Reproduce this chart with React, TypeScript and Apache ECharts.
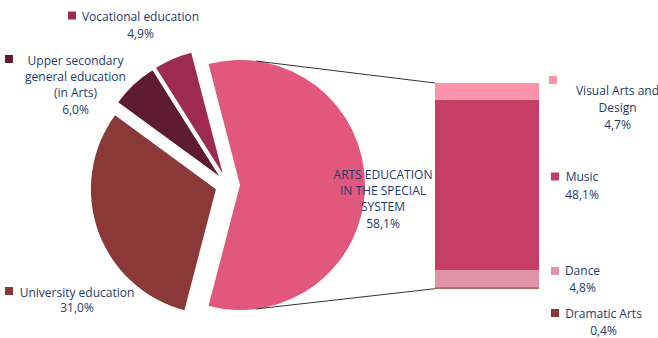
import React, { useEffect, useRef } from "react";
import * as echarts from "echarts";

// Main pie data (share of total, %)
const pieNames = [
  "ARTS EDUCATION IN THE SPECIAL SYSTEM",
  "University education",
  "Upper secondary general education (in Arts)",
  "Vocational education",
];
const pieValues = [58.1, 31.0, 6.0, 4.9];
const pieColors = ["#E2587C", "#8A3838", "#5E1B31", "#9D2B51"];

// Breakdown of the special system (stacked bar, bottom to top)
const barNames = ["Dramatic Arts", "Dance", "Music", "Visual Arts and Design"];
const barValues = [0.4, 4.8, 48.1, 4.7];
const barColors = ["#8A3838", "#E094AA", "#C73F68", "#FC93A9"];

const fmt = (v: number) => v.toFixed(1).replace(".", ",") + "%";

const TEXT = "#233A6E";
const FONT = "'Open Sans', sans-serif";
const FS = 12;

type LabelSpec = {
  lines: string[];
  cx: number;
  y: number;
  lh: number;
  sq?: [number, number];
  color?: string;
};

export default function App() {
  const ref = useRef<HTMLDivElement>(null);
  useEffect(() => {
    document.body.style.margin = "0";
    if (!ref.current) return;
    const chart = echarts.init(ref.current, undefined, { renderer: "svg" });

    const C: [number, number] = [227.6, 185];
    const R = 125;
    const OFF = 12.4;
    const startAngle = (pieValues[0] / 100) * 360 / 2;

    const gridLeft = 435;
    const gridTop = 83;
    const gridW = 104;
    const gridH = 205.7;
    const barTotal = barValues.reduce((a, b) => a + b, 0);

    chart.setOption({
      animation: false,
      grid: { left: gridLeft, top: gridTop, width: gridW, height: gridH },
      xAxis: { type: "category", data: ["bar"], show: false },
      yAxis: { type: "value", min: 0, max: barTotal, show: false },
      series: [
        {
          type: "pie",
          center: C,
          radius: R,
          startAngle,
          clockwise: true,
          selectedMode: "multiple",
          selectedOffset: OFF,
          label: { show: false },
          labelLine: { show: false },
          emphasis: { disabled: true },
          itemStyle: { borderWidth: 0 },
          data: pieNames.map((n, i) => ({
            name: n,
            value: pieValues[i],
            selected: true,
            itemStyle: { color: pieColors[i] },
          })),
        },
        ...barNames.map((n, i) => ({
          type: "bar",
          name: n,
          stack: "s",
          barWidth: "100%",
          data: [barValues[i]],
          itemStyle: { color: barColors[i] },
          emphasis: { disabled: true },
        })),
      ],
    });

    const labels: LabelSpec[] = [
      { lines: ["Vocational education", fmt(pieValues[3])], cx: 140.5, y: 16, lh: 17, sq: [68, 11.5], color: pieColors[3] },
      { lines: ["Upper secondary", "general education", "(in Arts)", fmt(pieValues[2])], cx: 75.5, y: 60, lh: 16.4, sq: [5, 55], color: pieColors[2] },
      { lines: ["University education", fmt(pieValues[1])], cx: 77, y: 292, lh: 15.5, sq: [5, 287], color: pieColors[1] },
      { lines: ["ARTS EDUCATION", "IN THE SPECIAL", "SYSTEM", fmt(pieValues[0])], cx: 383, y: 174, lh: 16.4 },
      { lines: ["Visual Arts and", "Design", fmt(barValues[3])], cx: 617.5, y: 90.7, lh: 17, sq: [549, 76], color: barColors[3] },
      { lines: ["Music", fmt(barValues[2])], cx: 582, y: 176.7, lh: 17.3, sq: [551, 172.5], color: barColors[2] },
      { lines: ["Dance", fmt(barValues[1])], cx: 582.5, y: 270.7, lh: 16.6, sq: [551, 267], color: barColors[1] },
      { lines: ["Dramatic Arts", fmt(barValues[0])], cx: 603.5, y: 313.3, lh: 16.7, sq: [551, 309], color: barColors[0] },
    ];

    const graphics: any[] = [];
    labels.forEach((l) => {
      if (l.sq) {
        graphics.push({
          type: "rect",
          z: 100,
          shape: { x: l.sq[0], y: l.sq[1], width: 8, height: 8 },
          style: { fill: l.color },
          silent: true,
        });
      }
      l.lines.forEach((t, k) => {
        graphics.push({
          type: "text",
          z: 100,
          x: l.cx,
          y: l.y + k * l.lh,
          style: {
            text: t,
            fill: TEXT,
            font: `${FS}px ${FONT}`,
            align: "center",
            verticalAlign: "middle",
          },
          silent: true,
        });
      });
    });

    // connector lines from the exploded slice to the bar's top and bottom
    const pc = [C[0] + OFF, C[1]];
    const a = (82.5 * Math.PI) / 180;
    const yTop = chart.convertToPixel({ yAxisIndex: 0 }, barTotal) as number;
    const yBot = chart.convertToPixel({ yAxisIndex: 0 }, 0) as number;
    graphics.push({
      type: "line",
      z: 100,
      shape: { x1: pc[0] + R * Math.cos(a), y1: pc[1] - R * Math.sin(a), x2: gridLeft, y2: yTop },
      style: { stroke: "#333", lineWidth: 1 },
      silent: true,
    });
    graphics.push({
      type: "line",
      z: 100,
      shape: { x1: pc[0] + R * Math.cos(a), y1: pc[1] + R * Math.sin(a), x2: gridLeft, y2: yBot },
      style: { stroke: "#333", lineWidth: 1 },
      silent: true,
    });

    chart.setOption({ graphic: graphics });

    return () => chart.dispose();
  }, []);
  return <div ref={ref} style={{ width: 658, height: 338 }} />;
}
